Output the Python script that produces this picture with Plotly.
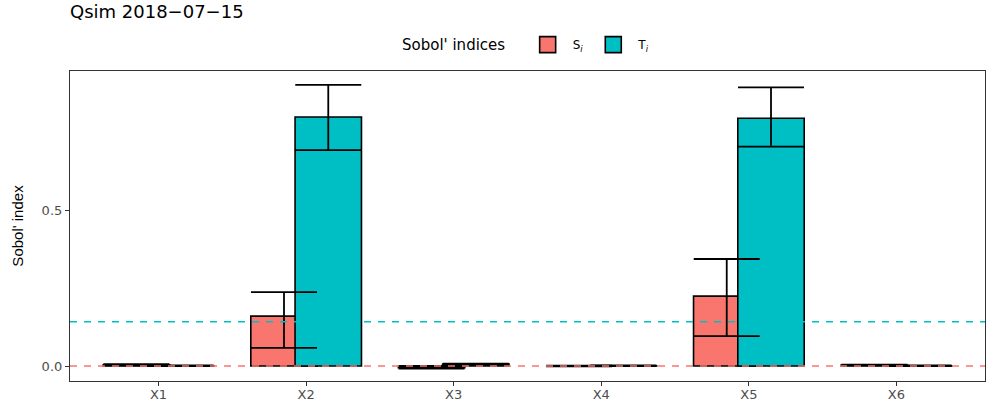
import plotly.graph_objects as go

# ---- data ----
categories = ["X1", "X2", "X3", "X4", "X5", "X6"]
S_values = [0.004, 0.160, -0.005, 0.000, 0.224, 0.003]
S_upper = [0.006, 0.237, 0.000, 0.001, 0.343, 0.004]
S_lower = [0.002, 0.058, -0.008, -0.001, 0.096, 0.002]
T_values = [0.001, 0.798, 0.006, 0.001, 0.794, 0.001]
T_upper = [0.002, 0.901, 0.008, 0.002, 0.893, 0.002]
T_lower = [0.000, 0.692, 0.004, 0.000, 0.703, 0.000]
S_threshold = 0.0
T_threshold = 0.142
title_text = "Qsim 2018\u221207\u221215"
legend_names = ["S<sub><i>i</i></sub>", "T<sub><i>i</i></sub>"]

S_color = "#F8766D"
T_color = "#00BFC4"
dodge = 0.15
bar_w = 0.45

pos = list(range(1, len(categories) + 1))
xS = [p - dodge for p in pos]
xT = [p + dodge for p in pos]

fig = go.Figure()
fig.add_trace(go.Bar(x=xS, y=S_values, width=bar_w, showlegend=False,
                     marker=dict(color=S_color, line=dict(color="black", width=1.6))))
fig.add_trace(go.Bar(x=xT, y=T_values, width=bar_w, showlegend=False,
                     marker=dict(color=T_color, line=dict(color="black", width=1.6))))

def err(vals, up, lo, x):
    return go.Scatter(
        x=x, y=vals, mode="markers", showlegend=False, hoverinfo="skip",
        marker=dict(size=1, color="rgba(0,0,0,0)"),
        error_y=dict(type="data", symmetric=False,
                     array=[u - v for u, v in zip(up, vals)],
                     arrayminus=[v - l for v, l in zip(vals, lo)],
                     color="black", thickness=1.8, width=33))

fig.add_trace(err(S_values, S_upper, S_lower, xS))
fig.add_trace(err(T_values, T_upper, T_lower, xT))

# legend keys (large boxes like ggplot)
for name, col in zip(legend_names, [S_color, T_color]):
    fig.add_trace(go.Scatter(x=[None], y=[None], mode="markers", name=name,
                             marker=dict(symbol="square", size=17, color=col,
                                         line=dict(color="black", width=1.6))))

fig.add_hline(y=S_threshold, line=dict(color=S_color, width=1.5, dash="7px,7px"), layer="above")
fig.add_hline(y=T_threshold, line=dict(color=T_color, width=1.5, dash="7px,7px"), layer="above")

fig.update_layout(
    width=997, height=419,
    margin=dict(l=70, r=12, t=71, b=38),
    barmode="overlay",
    paper_bgcolor="white", plot_bgcolor="white",
    font=dict(family="DejaVu Sans", color="black"),
    title=dict(text=title_text, x=70 / 997, xanchor="left", xref="container",
               y=1 - 12 / 419, yanchor="middle", yref="container",
               font=dict(family="DejaVu Sans", size=18, color="black")),
    legend=dict(orientation="h", x=0.5, xanchor="center", y=1.035, yanchor="bottom",
                title=dict(text="Sobol' indices  ", font=dict(size=15, family="DejaVu Sans")),
                font=dict(size=12, family="DejaVu Sans"), itemwidth=40,
                bgcolor="rgba(0,0,0,0)"),
    xaxis=dict(range=[0.4, 6.6], tickvals=pos, ticktext=categories,
               showgrid=False, zeroline=False, showline=True, mirror=True,
               linecolor="#333333", linewidth=1.2, ticks="outside", ticklen=4,
               tickcolor="#333333", ticklabelstandoff=-3,
               tickfont=dict(size=13, color="#4D4D4D")),
    yaxis=dict(range=[-0.048, 0.9455], tickvals=[0, 0.5], ticktext=["0.0", "0.5"],
               showgrid=False, zeroline=False, showline=True, mirror=True,
               linecolor="#333333", linewidth=1.2, ticks="outside", ticklen=4,
               tickcolor="#333333", tickfont=dict(size=13, color="#4D4D4D"),
               title=dict(text="Sobol' index", standoff=14,
                          font=dict(family="Liberation Sans", size=15, color="black"))),
)

fig.write_html("out.html", config={"displayModeBar": False},
               post_script="document.body.style.margin='0px';")
